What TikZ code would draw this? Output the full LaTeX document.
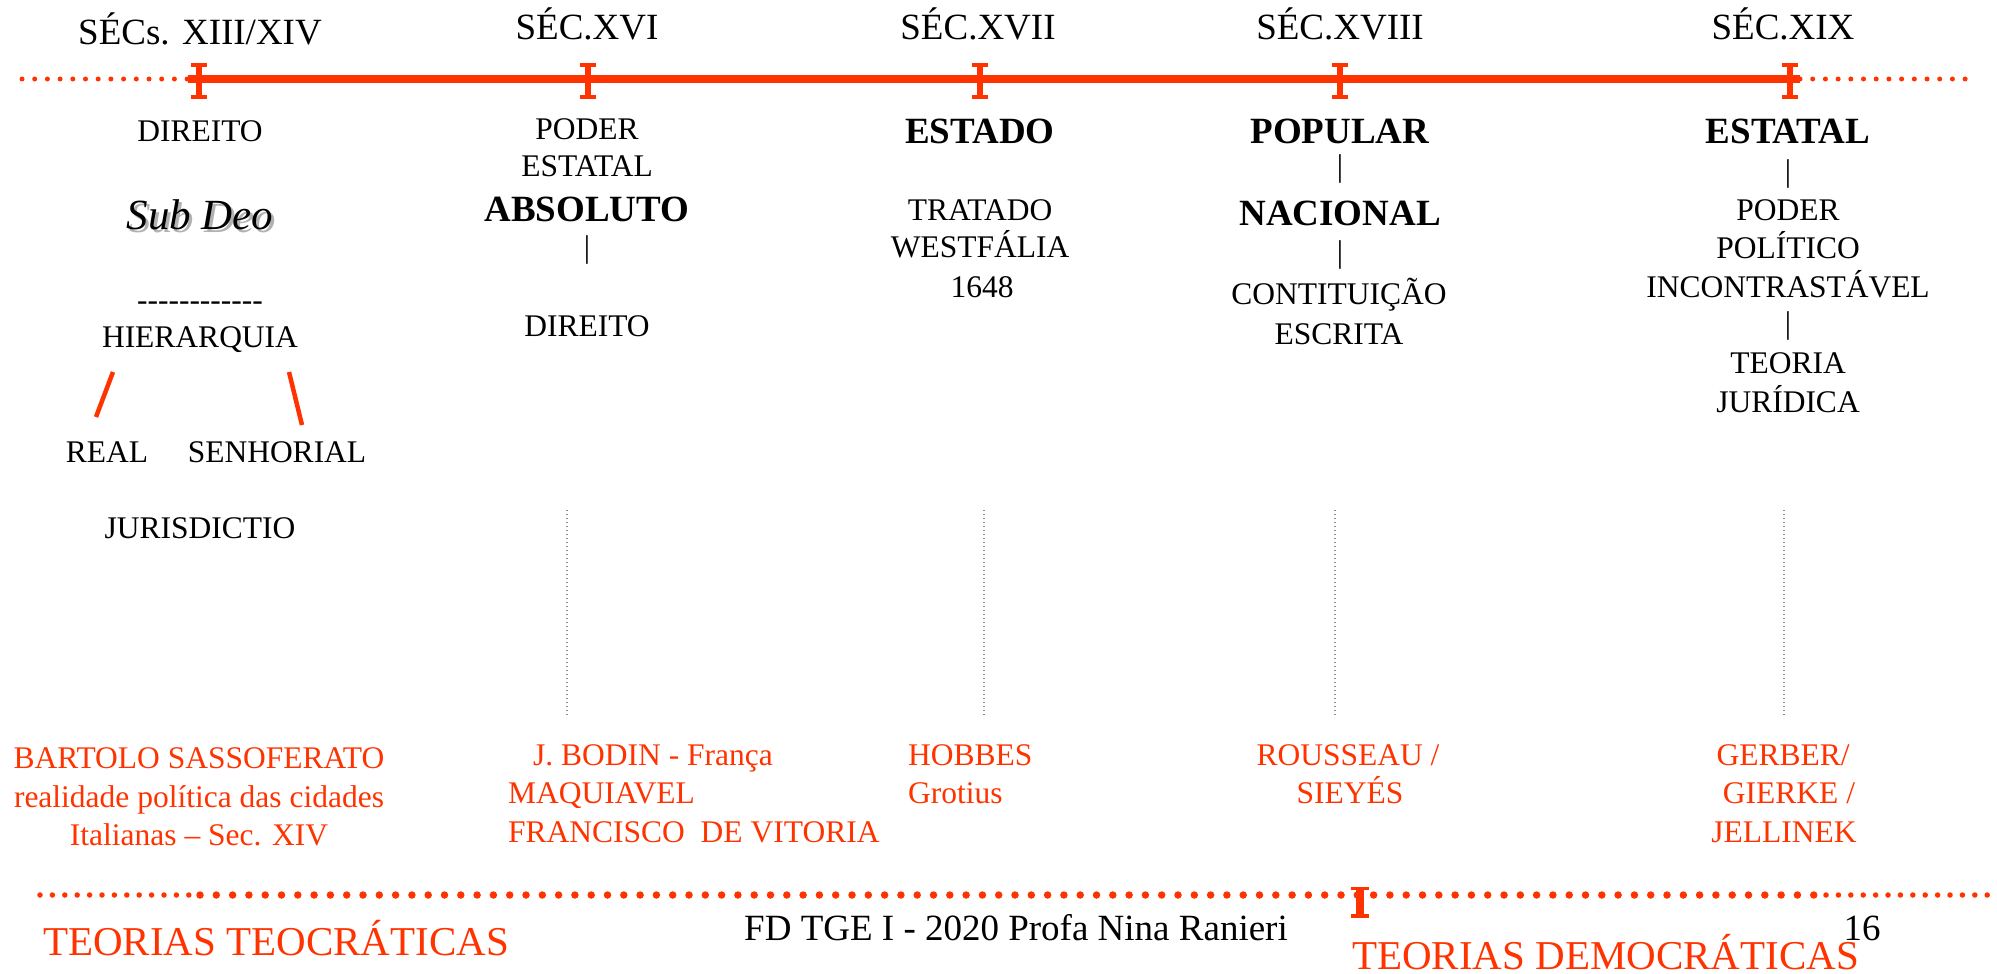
\documentclass[tikz,border=0pt]{standalone}
\usepackage{fontspec}
\setmainfont{Liberation Serif}
\definecolor{tlred}{RGB}{255,51,0}
\newcommand\hyp{-\kern0pt}
\tikzset{
  body/.style={font=\fontsize{31.5}{38}\selectfont, inner sep=0pt, anchor=base},
  hdr/.style={font=\fontsize{37}{44}\selectfont, inner sep=0pt, anchor=base},
  bhead/.style={font=\bfseries\fontsize{37}{44}\selectfont, inner sep=0pt, anchor=base},
  redtxt/.style={body, text=tlred},
  redleft/.style={body, text=tlred, anchor=base west},
  bigred/.style={font=\fontsize{41}{48}\selectfont, text=tlred, inner sep=0pt, anchor=base west},
  foot/.style={font=\fontsize{37}{44}\selectfont, inner sep=0pt, anchor=base},
  subdeo/.style={font=\itshape\fontsize{43}{50}\selectfont, inner sep=0pt, anchor=base},
  mainline/.style={tlred, line width=8pt},
  reddots/.style={tlred, line width=5pt, line cap=round, dash pattern=on 0pt off 12.7pt},
  smalldots/.style={tlred, line width=5.5pt, line cap=round, dash pattern=on 0pt off 12.4pt},
  bigdots/.style={tlred, line width=7.5pt, line cap=round, dash pattern=on 0pt off 16.3pt},
  graydots/.style={black!45, line width=1.2pt, dash pattern=on 1.2pt off 2.8pt},
  slash/.style={tlred, line width=4.5pt},
  tickI/.pic={
    \fill[tlred] (-3,-16) rectangle (3,20);
    \fill[tlred] (-8,-16) rectangle (8,-12);
    \fill[tlred] (-8,16) rectangle (8,20);
  },
  tickB/.pic={
    \fill[tlred] (-4,-8) rectangle (4,23);
    \fill[tlred] (-9,-8) rectangle (9,-5);
    \fill[tlred] (-9,19) rectangle (9,23);
  }
}
\begin{document}
\begin{tikzpicture}[x=1pt,y=-1pt]
\useasboundingbox (0,0) rectangle (1997,974);
% ---------- top timeline ----------
\coordinate (tl0) at (22,79);
\coordinate (tl1) at (188,79);
\coordinate (tl2) at (1800,79);
\coordinate (tl3) at (1974,79);
\draw[reddots] (tl0) -- (tl1);
\draw[reddots] (tl2) -- (tl3);
\draw[mainline] (tl1) -- (tl2);
\pic at (199,79) {tickI};
\pic at (588,79) {tickI};
\pic at (980,79) {tickI};
\pic at (1340,79) {tickI};
\pic at (1790,79) {tickI};
% ---------- headings ----------
\node[hdr] (h1) at (200,45) {SÉCs. XIII/XIV};
\node[hdr] (h2) at (587,40) {SÉC.XVI};
\node[hdr] (h3) at (978,40) {SÉC.XVII};
\node[hdr] (h4) at (1340,40) {SÉC.XVIII};
\node[hdr] (h5) at (1783,40) {SÉC.XIX};
% ---------- column 1 ----------
\node[body] (c1a) at (200,141) {DIREITO};
\node[subdeo, text=black!30] (c1bs) at (203,232) {Sub Deo};
\node[subdeo] (c1b) at (200,229) {Sub Deo};
\node[body] (c1c) at (200,310) {\hyp\hyp\hyp\hyp\hyp\hyp\hyp\hyp\hyp\hyp\hyp-};
\node[body] (c1d) at (200,347) {HIERARQUIA};
\node[body] (c1e) at (107,462) {REAL};
\node[body] (c1f) at (277,462) {SENHORIAL};
\node[body] (c1g) at (200,538) {JURISDICTIO};
\coordinate (s1a) at (113,372);
\coordinate (s1b) at (96,417);
\coordinate (s2a) at (289,372);
\coordinate (s2b) at (302,425);
\draw[slash] (s1a) -- (s1b);
\draw[slash] (s2a) -- (s2b);
% ---------- column 2 ----------
\node[body] (c2a) at (587,139.5) {PODER};
\node[body] (c2b) at (587,176.5) {ESTATAL};
\node[bhead] (c2c) at (587,221) {ABSOLUTO};
\node[body] (c2d) at (587,257) {|};
\node[body] (c2e) at (587,336) {DIREITO};
% ---------- column 3 ----------
\node[bhead] (c3a) at (980,143) {ESTADO};
\node[body] (c3b) at (980,220) {TRATADO};
\node[body] (c3c) at (980,257) {WESTFÁLIA};
\node[body] (c3d) at (982,297) {1648};
% ---------- column 4 ----------
\node[bhead] (c4a) at (1340,143) {POPULAR};
\node[body] (c4b) at (1340,176) {|};
\node[bhead] (c4c) at (1340,225) {NACIONAL};
\node[body] (c4d) at (1340,262) {|};
\node[body] (c4e) at (1339,304) {CONTITUIÇÃO};
\node[body] (c4f) at (1339,344) {ESCRITA};
% ---------- column 5 ----------
\node[bhead] (c5a) at (1788,143) {ESTATAL};
\node[body] (c5b) at (1788,181) {|};
\node[body] (c5c) at (1788,220) {PODER};
\node[body] (c5d) at (1788,258) {POLÍTICO};
\node[body] (c5e) at (1788,297) {INCONTRASTÁVEL};
\node[body] (c5f) at (1788,333) {|};
\node[body] (c5g) at (1788,373) {TEORIA};
\node[body] (c5h) at (1788,412) {JURÍDICA};
% ---------- gray dotted guides ----------
\coordinate (g1a) at (567,510); \coordinate (g1b) at (567,718);
\coordinate (g2a) at (984,510); \coordinate (g2b) at (984,718);
\coordinate (g3a) at (1335,510); \coordinate (g3b) at (1335,718);
\coordinate (g4a) at (1784,510); \coordinate (g4b) at (1784,718);
\draw[graydots] (g1a) -- (g1b);
\draw[graydots] (g2a) -- (g2b);
\draw[graydots] (g3a) -- (g3b);
\draw[graydots] (g4a) -- (g4b);
% ---------- authors ----------
\node[redtxt] (r1a) at (199,768) {BARTOLO SASSOFERATO};
\node[redtxt] (r1b) at (199,807) {realidade política das cidades};
\node[redtxt] (r1c) at (199,845) {Italianas – Sec. XIV};
\node[redleft] (r2a) at (533,765) {J. BODIN - França};
\node[redleft] (r2b) at (508,803) {MAQUIAVEL};
\node[redleft] (r2c) at (508,842) {FRANCISCO\ \ DE VITORIA};
\node[redleft] (r3a) at (908,765) {HOBBES};
\node[redleft] (r3b) at (908,803) {Grotius};
\node[redtxt] (r4a) at (1348,765) {ROUSSEAU /};
\node[redtxt] (r4b) at (1350,803) {SIEYÉS};
\node[redtxt] (r5a) at (1783,765) {GERBER/};
\node[redtxt] (r5b) at (1789,803) {GIERKE /};
\node[redtxt] (r5c) at (1784,842) {JELLINEK};
% ---------- bottom timeline ----------
\coordinate (b0) at (40,895);
\coordinate (b1) at (190,895);
\coordinate (b2) at (200,895);
\coordinate (b3) at (1815,895);
\coordinate (b4) at (1826,895);
\coordinate (b5) at (1988,895);
\draw[smalldots] (b0) -- (b1);
\draw[bigdots] (b2) -- (b3);
\draw[smalldots] (b4) -- (b5);
\pic at (1360,895) {tickB};
\node[bigred] (tt) at (43,955) {TEORIAS TEOCRÁTICAS};
\node[foot] (ft) at (1016,940) {FD TGE I - 2020 Profa Nina Ranieri};
\node[foot] (pg) at (1862,940) {16};
\node[bigred] (td) at (1352,969) {TEORIAS DEMOCRÁTICAS};
\end{tikzpicture}
\end{document}
